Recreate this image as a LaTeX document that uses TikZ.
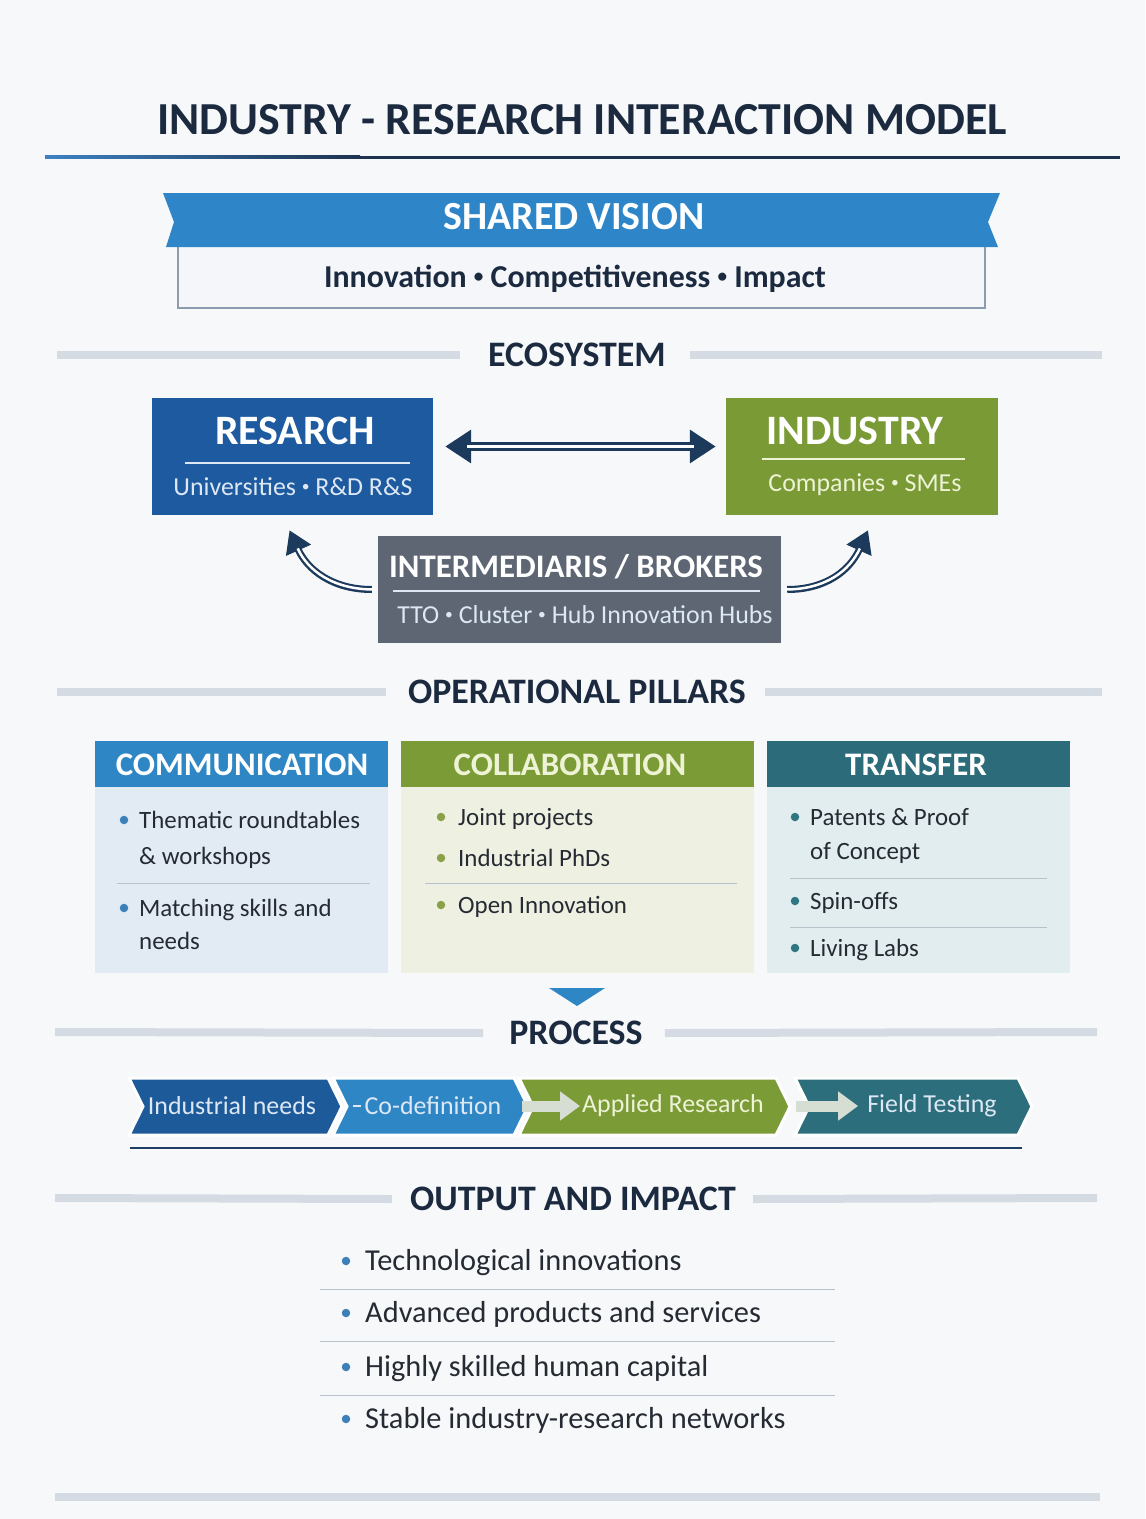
\documentclass[tikz,border=0pt]{standalone}
\usepackage{fontspec}
\usepackage{graphicx}
\setmainfont{Carlito}
\usetikzlibrary{arrows.meta}
\definecolor{pageBg}{HTML}{F7F8FA}
\definecolor{headNavy}{HTML}{1C2A40}
\definecolor{ruleBlue}{HTML}{3C82C2}
\definecolor{ruleNavy}{HTML}{1E3350}
\definecolor{barGray}{HTML}{D5DBE3}
\definecolor{ribbonBlue}{HTML}{2E86C8}
\definecolor{visionBorder}{HTML}{8C9CB0}
\definecolor{visionFill}{HTML}{F4F6FA}
\definecolor{researchBlue}{HTML}{1D5A9F}
\definecolor{industryGreen}{HTML}{7A9A36}
\definecolor{brokerGray}{HTML}{5E6674}
\definecolor{arrowNavy}{HTML}{1B3A5C}
\definecolor{subLight}{HTML}{DDE8F4}
\definecolor{subGreen}{HTML}{EEF3D6}
\definecolor{commHead}{HTML}{2F86C5}
\definecolor{commBody}{HTML}{E2EBF4}
\definecolor{collHead}{HTML}{7B9B37}
\definecolor{collBody}{HTML}{EEF1E2}
\definecolor{tranHead}{HTML}{2C6B7A}
\definecolor{tranBody}{HTML}{E2EDEF}
\definecolor{dotBlue}{HTML}{3B80B8}
\definecolor{dotGreen}{HTML}{8AA04A}
\definecolor{dotTeal}{HTML}{2F7683}
\definecolor{itemText}{HTML}{252A33}
\definecolor{sepGray}{HTML}{B9C1CA}
\definecolor{stepBlueDark}{HTML}{1D5A9A}
\definecolor{stepBlue}{HTML}{2F86C5}
\definecolor{stepGreen}{HTML}{7B9B37}
\definecolor{stepTeal}{HTML}{2C6E7C}
\definecolor{stepArrow}{HTML}{D6DDD2}
\definecolor{stepLine}{HTML}{1F3D66}
% small centred dot between words
\newcommand\middot{\raisebox{.16em}{\scalebox{.6}{•}}}
\def\textTitle{INDUSTRY - RESEARCH INTERACTION MODEL}
\def\textVision{Innovation \middot{} Competitiveness \middot{} Impact}
\def\textResearch{Universities \middot{} R\&D R\&S}
\def\textIndustry{Companies \middot{} SMEs}
\def\textBroker{TTO \middot{} Cluster \middot{} Hub Innovation Hubs}

\begin{document}
\begin{tikzpicture}[x=1bp,y=-1bp,
  heading/.style={inner sep=0pt, text=headNavy, font=\bfseries\fontsize{36}{42}\selectfont},
  secbar/.style={line width=8bp, color=barGray},
  boxtitle/.style={inner sep=0pt, text=white, font=\bfseries\fontsize{42}{48}\selectfont},
  boxsub/.style={inner sep=0pt, font=\fontsize{26}{31}\selectfont},
  boxrule/.style={line width=1.2bp},
  pillarhead/.style={inner sep=0pt, text=white, font=\bfseries\fontsize{33}{39}\selectfont},
  itemtext/.style={inner sep=0pt, anchor=base west, text=itemText, font=\fontsize{25}{30}\selectfont},
  outtext/.style={inner sep=0pt, anchor=base west, text=itemText, font=\fontsize{30.5}{36}\selectfont},
  itemdot/.style={circle, inner sep=0pt, minimum size=8.5bp},
  seprule/.style={line width=1bp, color=sepGray},
  chevron/.style={draw=white, line width=3bp, line join=miter},
  steptext/.style={inner sep=0pt, text=subLight, font=\fontsize{26}{31}\selectfont},
  steparrow/.style={line width=11bp, color=stepArrow, -{Triangle[length=20bp,width=28bp]}},
  biarrow/.style={line width=9bp, color=arrowNavy,
    {Triangle[length=26bp,width=32bp]}-{Triangle[length=26bp,width=32bp]}},
  bigap/.style={line width=2.5bp, color=white},
  curvearrow/.style={line width=7bp, color=arrowNavy, -{Triangle[length=22bp,width=26bp]}},
  curvegap/.style={line width=2.5bp, color=white}]

\useasboundingbox (0,0) rectangle (1145,1519);
\fill[pageBg] (0,0) rectangle (1145,1519);

% title
\begin{scope}
\node[inner sep=0pt, text=headNavy, font=\bfseries\fontsize{46}{52}\selectfont]
  (title) at (582,120) {\textTitle};
\shade[left color=ruleBlue, right color=ruleNavy] (45,155.5) rectangle (360,158.5);
\fill[ruleNavy] (359,155.5) rectangle (1120,158.5);
\end{scope}

% shared vision banner
\begin{scope}
\fill[visionFill, draw=visionBorder, line width=2bp] (178,246) rectangle (985,308);
\fill[ribbonBlue] (163,193) -- (1000,193) -- (988,222) -- (998,247)
  -- (166,247) -- (174,222) -- cycle;
\node[inner sep=0pt, text=white, font=\bfseries\fontsize{40}{46}\selectfont]
  (vision) at (574,217) {SHARED VISION};
\node[inner sep=0pt, text=headNavy, font=\bfseries\fontsize{32}{38}\selectfont]
  (values) at (575,279) {\textVision};
\end{scope}

% ecosystem
\begin{scope}
\node[heading] (eco) at (577,355) {ECOSYSTEM};
\coordinate (ecoL) at (57,355);
\coordinate (ecoR) at (1102,355);
\draw[secbar] (ecoL) -- ([xshift=-28bp]eco.west);
\draw[secbar] ([xshift=24bp]eco.east) -- (ecoR);

\node[fill=researchBlue, minimum width=281bp, minimum height=117bp, inner sep=0pt]
  (research) at (292.5,456.5) {};
\node[boxtitle] (researchT) at (295,431) {RESARCH};
\draw[boxrule, color=subLight] (185,463) -- (410,463);
\node[boxsub, text=subLight] (researchS) at (293,487) {\textResearch};

\node[fill=industryGreen, minimum width=272bp, minimum height=117bp, inner sep=0pt]
  (industry) at (862,456.5) {};
\node[boxtitle] (industryT) at (855,431) {INDUSTRY};
\draw[boxrule, color=subGreen] (762,459) -- (965,459);
\node[boxsub, text=subGreen] (industryS) at (865,485) {\textIndustry};

\node[fill=brokerGray, minimum width=403bp, minimum height=107bp, inner sep=0pt]
  (broker) at (579.5,589.5) {};
\node[inner sep=0pt, text=white, font=\bfseries\fontsize{33}{38}\selectfont]
  (brokerT) at (576,567) {INTERMEDIARIS / BROKERS};
\draw[boxrule, color=subLight] (393,591) -- (760,591);
\node[boxsub, text=subLight] (brokerS) at (585,615) {\textBroker};

% links
\draw[biarrow, shorten <=12bp, shorten >=10bp]
  ([yshift=10bp]research.east) -- ([yshift=10bp]industry.west);
\draw[bigap, shorten <=34bp, shorten >=32bp]
  ([yshift=10bp]research.east) -- ([yshift=10bp]industry.west);
\draw[curvearrow, shorten <=6bp] (broker.west) .. controls +(-45,0) and +(18,40)
  .. ([xshift=-3bp,yshift=-15bp]research.south);
\draw[curvegap, shorten <=4bp, shorten >=20bp] (broker.west) .. controls +(-45,0) and +(18,40)
  .. ([xshift=-3bp,yshift=-15bp]research.south);
\draw[curvearrow, shorten <=6bp] (broker.east) .. controls +(45,0) and +(-18,40)
  .. ([xshift=6bp,yshift=-15bp]industry.south);
\draw[curvegap, shorten <=4bp, shorten >=20bp] (broker.east) .. controls +(45,0) and +(-18,40)
  .. ([xshift=6bp,yshift=-15bp]industry.south);
\end{scope}

% operational pillars
\begin{scope}
\node[heading] (pillars) at (577,692) {OPERATIONAL PILLARS};
\coordinate (pillarsL) at (57,692);
\coordinate (pillarsR) at (1102,692);
\draw[secbar] (pillarsL) -- ([xshift=-22bp]pillars.west);
\draw[secbar] ([xshift=19bp]pillars.east) -- (pillarsR);

% communication
\node[fill=commBody, minimum width=293bp, minimum height=186bp, inner sep=0pt]
  (commB) at (241.5,880) {};
\node[fill=commHead, minimum width=293bp, minimum height=46bp, inner sep=0pt]
  (commH) at (241.5,764) {};
\node[pillarhead] (commT) at (242,765) {COMMUNICATION};
\node[itemdot, fill=dotBlue] (commD1) at (124,820) {};
\node[itemtext] (comm1) at (139,828) {Thematic roundtables};
\node[itemtext] (comm1b) at (139,864) {\& workshops};
\draw[seprule] (117,883) -- (370,883);
\node[itemdot, fill=dotBlue] (commD2) at (124,908) {};
\node[itemtext] (comm2) at (139,916) {Matching skills and};
\node[itemtext] (comm2b) at (139,949) {needs};

% collaboration
\node[fill=collBody, minimum width=353bp, minimum height=186bp, inner sep=0pt]
  (collB) at (577.5,880) {};
\node[fill=collHead, minimum width=353bp, minimum height=46bp, inner sep=0pt]
  (collH) at (577.5,764) {};
\node[pillarhead, text=subGreen] (collT) at (570,765) {COLLABORATION};
\node[itemdot, fill=dotGreen] (collD1) at (441,817) {};
\node[itemtext] (coll1) at (458,825) {Joint projects};
\node[itemdot, fill=dotGreen] (collD2) at (441,858) {};
\node[itemtext] (coll2) at (458,866) {Industrial PhDs};
\draw[seprule] (425,883) -- (737,883);
\node[itemdot, fill=dotGreen] (collD3) at (441,905) {};
\node[itemtext] (coll3) at (458,913) {Open Innovation};

% transfer
\node[fill=tranBody, minimum width=303bp, minimum height=186bp, inner sep=0pt]
  (tranB) at (918.5,880) {};
\node[fill=tranHead, minimum width=303bp, minimum height=46bp, inner sep=0pt]
  (tranH) at (918.5,764) {};
\node[pillarhead] (tranT) at (916,765) {TRANSFER};
\node[itemdot, fill=dotTeal] (tranD1) at (795,817) {};
\node[itemtext] (tran1) at (810,825) {Patents \& Proof};
\node[itemtext] (tran1b) at (810,859) {of Concept};
\draw[seprule] (790,878) -- (1047,878);
\node[itemdot, fill=dotTeal] (tranD2) at (795,901) {};
\node[itemtext] (tran2) at (810,909) {Spin-offs};
\draw[seprule] (790,927) -- (1047,927);
\node[itemdot, fill=dotTeal] (tranD3) at (795,948) {};
\node[itemtext] (tran3) at (810,956) {Living Labs};

\fill[commHead] (549,988) -- (605,988) -- (577,1006) -- cycle;
\end{scope}

% process
\begin{scope}
\node[heading] (process) at (576,1033) {PROCESS};
\coordinate (processL) at (55,1032);
\coordinate (processR) at (1097,1032);
\draw[secbar] (processL) -- ([xshift=-26bp]process.west);
\draw[secbar] ([xshift=22bp]process.east) -- (processR);

\fill[chevron, fill=stepBlueDark] (129,1078) -- (328,1078) -- (342,1106.5)
  -- (328,1135) -- (129,1135) -- (143,1106.5) -- cycle;
\fill[chevron, fill=stepBlue] (333,1078) -- (514,1078) -- (528,1106.5)
  -- (514,1135) -- (333,1135) -- (347,1106.5) -- cycle;
\fill[chevron, fill=stepGreen] (519,1078) -- (776,1078) -- (790,1106.5)
  -- (776,1135) -- (519,1135) -- (533,1106.5) -- cycle;
\fill[chevron, fill=stepTeal] (795,1078) -- (1018,1078) -- (1032,1106.5)
  -- (1018,1135) -- (795,1135) -- (809,1106.5) -- cycle;

\node[steptext] (needs) at (232,1106) {Industrial needs};
\node[steptext] (codef) at (433,1106) {Co-definition};
\node[steptext, text=subGreen] (applied) at (673,1106) {Applied Research};
\node[steptext] (field) at (932,1106) {Field Testing};

\draw[line width=2bp, color=subLight, shorten <=37bp, shorten >=3bp] (needs.east) -- (codef.west);
\draw[steparrow, shorten <=20bp, shorten >=2bp] (codef.east) -- (applied.west);
\draw[steparrow, shorten <=32bp, shorten >=9bp] (applied.east) -- (field.west);

\draw[line width=2.5bp, color=stepLine] (130,1148) -- (1022,1148);
\end{scope}

% output and impact
\begin{scope}
\node[heading] (output) at (573,1199) {OUTPUT AND IMPACT};
\coordinate (outputL) at (55,1198);
\coordinate (outputR) at (1097,1198);
\draw[secbar] (outputL) -- ([xshift=-18bp]output.west);
\draw[secbar] ([xshift=17bp]output.east) -- (outputR);

\node[itemdot, fill=dotBlue] (outD1) at (346,1261) {};
\node[outtext] (out1) at (365,1270) {Technological innovations};
\draw[seprule] (320,1289) -- (835,1289);
\node[itemdot, fill=dotBlue] (outD2) at (346,1313) {};
\node[outtext] (out2) at (365,1322) {Advanced products and services};
\draw[seprule] (320,1341) -- (835,1341);
\node[itemdot, fill=dotBlue] (outD3) at (346,1367) {};
\node[outtext] (out3) at (365,1376) {Highly skilled human capital};
\draw[seprule] (320,1395) -- (835,1395);
\node[itemdot, fill=dotBlue] (outD4) at (346,1419) {};
\node[outtext] (out4) at (365,1428) {Stable industry-research networks};

\coordinate (footL) at (55,1497);
\coordinate (footR) at (1100,1497);
\draw[secbar] (footL) -- (footR);
\end{scope}

\end{tikzpicture}
\end{document}
